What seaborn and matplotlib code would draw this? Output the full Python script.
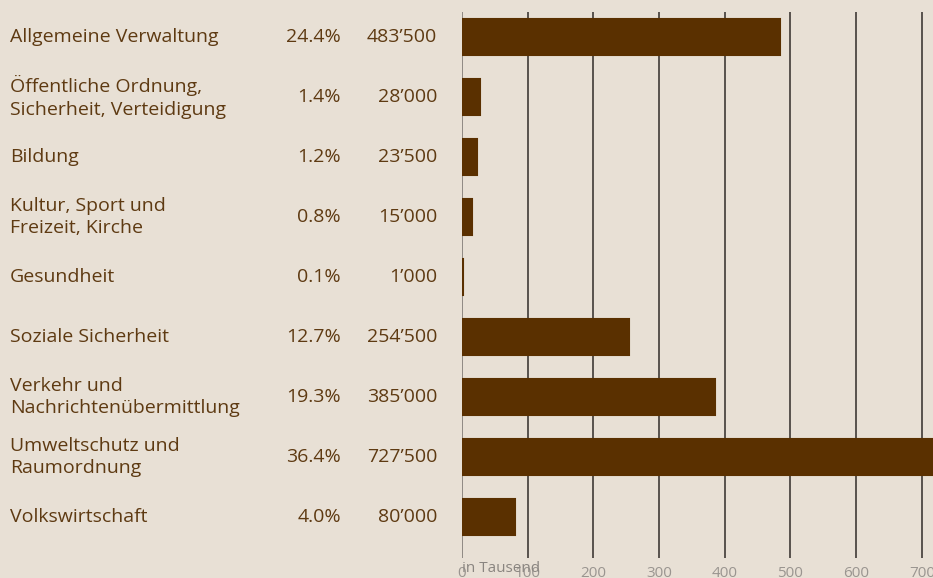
import numpy as np
import pandas as pd
import seaborn as sns
import matplotlib.pyplot as plt
from matplotlib.transforms import blended_transform_factory

categories = [
    'Allgemeine Verwaltung',
    'Öffentliche Ordnung,\nSicherheit, Verteidigung',
    'Bildung',
    'Kultur, Sport und\nFreizeit, Kirche',
    'Gesundheit',
    'Soziale Sicherheit',
    'Verkehr und\nNachrichtenübermittlung',
    'Umweltschutz und\nRaumordnung',
    'Volkswirtschaft',
]
percent_labels = ['24.4%', '1.4%', '1.2%', '0.8%', '0.1%', '12.7%', '19.3%', '36.4%', '4.0%']
amount_labels = ['483’500', '28’000', '23’500', '15’000', '1’000', '254’500', '385’000', '727’500', '80’000']
values = [483.5, 28, 23.5, 15, 1, 254.5, 385, 727.5, 80]  # in Tausend
x_ticks = [0, 100, 200, 300, 400, 500, 600, 700]

bg = '#e8e0d5'
bar_color = '#5a3000'
text_color = '#5e3a12'
tick_color = '#9a9590'

sns.set_style('white')
plt.rcParams['font.family'] = ['Open Sans', 'DejaVu Sans']

df = pd.DataFrame({'Kategorie': categories, 'Wert': values})

fig = plt.figure(figsize=(9.33, 5.78), dpi=100)
fig.patch.set_facecolor(bg)
ax = fig.add_axes([462 / 933, 1 - 558 / 578, 471 / 933, 546 / 578])
ax.set_facecolor(bg)

sns.barplot(data=df, x='Wert', y='Kategorie', orient='h', color=bar_color,
            saturation=1, width=0.6, ax=ax, zorder=3,
            edgecolor=bar_color, linewidth=1.5)

ax.set_xlim(0, 717)
ax.set_ylim(8.683, -0.417)
ax.set_xticks(x_ticks)
ax.set_xticklabels([str(t) for t in x_ticks])
ax.set_yticks([])
ax.set_xlabel('')
ax.set_ylabel('')
for s in ax.spines.values():
    s.set_visible(False)
ax.tick_params(axis='x', length=0, pad=6, labelsize=11, labelcolor=tick_color)
for t in x_ticks:
    ax.axvline(t, color='#807a75' if t == 0 else '#3f3a36', lw=1.2, zorder=1)

trans = blended_transform_factory(fig.transFigure, ax.transData)
for i, cat in enumerate(categories):
    ax.text(10 / 933, i, cat, transform=trans, ha='left', va='center',
            fontsize=14, color=text_color, linespacing=1.3, clip_on=False)
    ax.text(341 / 933, i, percent_labels[i], transform=trans, ha='right', va='center',
            fontsize=14, color=text_color, clip_on=False)
    ax.text(437 / 933, i, amount_labels[i], transform=trans, ha='right', va='center',
            fontsize=14, color=text_color, clip_on=False)

fig.text(462 / 933, 1 - 569 / 578, 'in Tausend', ha='left', va='center',
         fontsize=11, color='#8a8580')

fig.savefig('out.png', dpi=100, facecolor=bg)
